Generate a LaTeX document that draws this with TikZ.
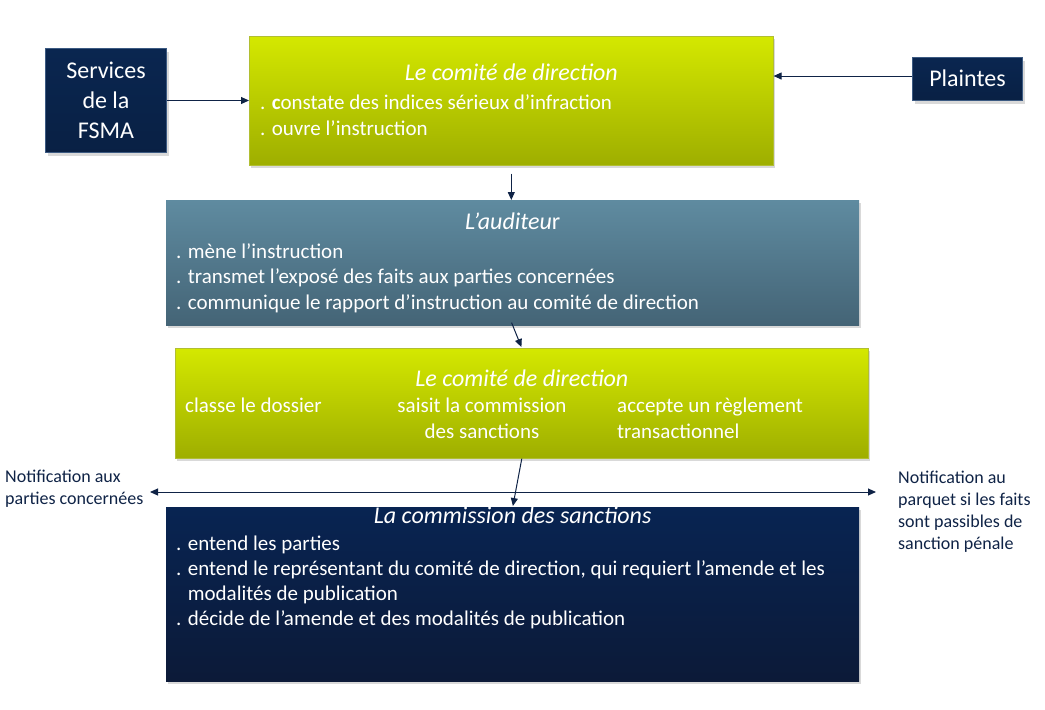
\documentclass[tikz,border=0pt]{standalone}
\usepackage{fontspec}
\setmainfont{Carlito}
\usepackage{xcolor}
\usepackage{tikz}
\usetikzlibrary{arrows.meta,positioning,shadows,calc}
\definecolor{cdtop}{RGB}{212,232,0}
\definecolor{cdbot}{RGB}{158,174,0}
\definecolor{audtop}{RGB}{95,139,160}
\definecolor{audbot}{RGB}{68,100,118}
\definecolor{comtop}{RGB}{8,36,82}
\definecolor{combot}{RGB}{12,26,56}
\definecolor{fsmanavy}{RGB}{10,38,80}
\definecolor{fsmaedge}{RGB}{60,90,130}
\definecolor{arrownavy}{RGB}{15,35,70}

\begin{document}
\begin{tikzpicture}[x=1pt,y=-1pt,
  panel/.style={rectangle, anchor=north west, inner sep=0pt,
    drop shadow={shadow xshift=2pt, shadow yshift=-3pt, opacity=0.3}},
  greenbox/.style={panel, top color=cdtop, bottom color=cdbot, draw=cdbot!80!white, line width=0.6pt},
  audbox/.style={panel, top color=audtop, bottom color=audbot},
  combox/.style={panel, top color=comtop, bottom color=combot},
  smallbox/.style={panel, top color=fsmanavy, bottom color=fsmanavy!85!black, draw=fsmaedge, line width=1pt},
  boxtitle/.style={anchor=base, inner sep=0pt, text=white, font=\fontsize{24}{28}\selectfont\itshape},
  boxtext/.style={anchor=base west, inner sep=0pt, text=white, align=left, font=\fontsize{21}{25.5}\selectfont},
  smalltext/.style={anchor=base, inner sep=0pt, text=white, align=center, font=\fontsize{24}{30}\selectfont},
  notetext/.style={anchor=base west, inner sep=0pt, text=arrownavy, align=left, font=\fontsize{18}{22}\selectfont},
  arr/.style={draw=arrownavy, line width=1pt, -{Triangle[length=8pt,width=7pt]}}]
  \useasboundingbox (0,0) rectangle (1045,710);

  % boxes
  \node[smallbox, minimum width=121pt, minimum height=104pt] (svc) at (45,48) {};
  \node[smallbox, minimum width=110pt, minimum height=43pt] (pl) at (912,57) {};
  \node[greenbox, minimum width=524pt, minimum height=129pt] (cd1) at (249,36) {};
  \node[audbox, minimum width=693pt, minimum height=125pt] (aud) at (166,200) {};
  \node[greenbox, minimum width=693pt, minimum height=110pt] (cd2) at (175,348) {};
  \node[combox, minimum width=693pt, minimum height=174pt] (com) at (166,507) {};

  % texts (multi-line nodes sit on their last baseline)
  \node[smalltext] (svct) at (svc.north |- 0,138) {Services\\de la\\FSMA};
  \node[smalltext] (plt) at (pl.north |- 0,86) {Plaintes};
  \node[boxtitle] (cd1t) at (cd1.north |- 0,80) {Le comité de direction};
  \node[boxtext, font=\fontsize{21}{26}\selectfont] (cd1b) at (260,135) {. \textbf{c}onstate des indices sérieux d’infraction\\. ouvre l’instruction};
  \node[boxtitle] (audt) at (aud.north |- 0,229) {L’auditeu\upshape r};
  \node[boxtext] (audb) at (176,309) {. mène l’instruction\\. transmet l’exposé des faits aux parties concernées\\. communique le rapport d’instruction au comité de direction};
  \node[boxtitle] (cd2t) at (cd2.north |- 0,386) {Le comité de direction};
  \node[boxtext] (cd2a) at (185,412.5) {classe le dossier};
  \node[boxtext, anchor=base, align=center] (cd2b) at (482,438) {saisit la commission\\des sanctions};
  \node[boxtext] (cd2c) at (617,438) {accepte un règlement\\transactionnel};
  \node[boxtitle] (comt) at (com.north |- 0,523) {La commission des sanctions};
  \node[boxtext, font=\fontsize{21}{25}\selectfont] (comb) at (176,625) {. entend les parties\\. entend le représentant du comité de direction, qui requiert l’amende et les\\\phantom{. }modalités de publication\\. décide de l’amende et des modalités de publication};
  \node[notetext] (notl) at (5,504) {Notification aux\\parties concernées};
  \node[notetext] (notr) at (898,549) {Notification au\\parquet si les faits\\sont passibles de\\sanction pénale};

  % connectors
  \coordinate (nl) at (150,492);
  \coordinate (nr) at (876,492);
  \draw[arr] (svc.east) -- (svc.east -| cd1.west);
  \draw[arr] ($(pl.west)+(0,-3)$) -- ($(pl.west -| cd1.east)+(0,-3)$);
  \draw[arr, shorten <=8pt] (cd1.south) -- (cd1.south |- aud.north);
  \draw[arr, shorten <=-3pt, shorten >=1pt] (aud.south) -- (cd2.north);
  \draw[arr, shorten >=1pt] (cd2.south) -- (com.north);
  \draw[arr, {Triangle[length=8pt,width=7pt]}-{Triangle[length=8pt,width=7pt]}] (nl) -- (nr);
\end{tikzpicture}
\end{document}
